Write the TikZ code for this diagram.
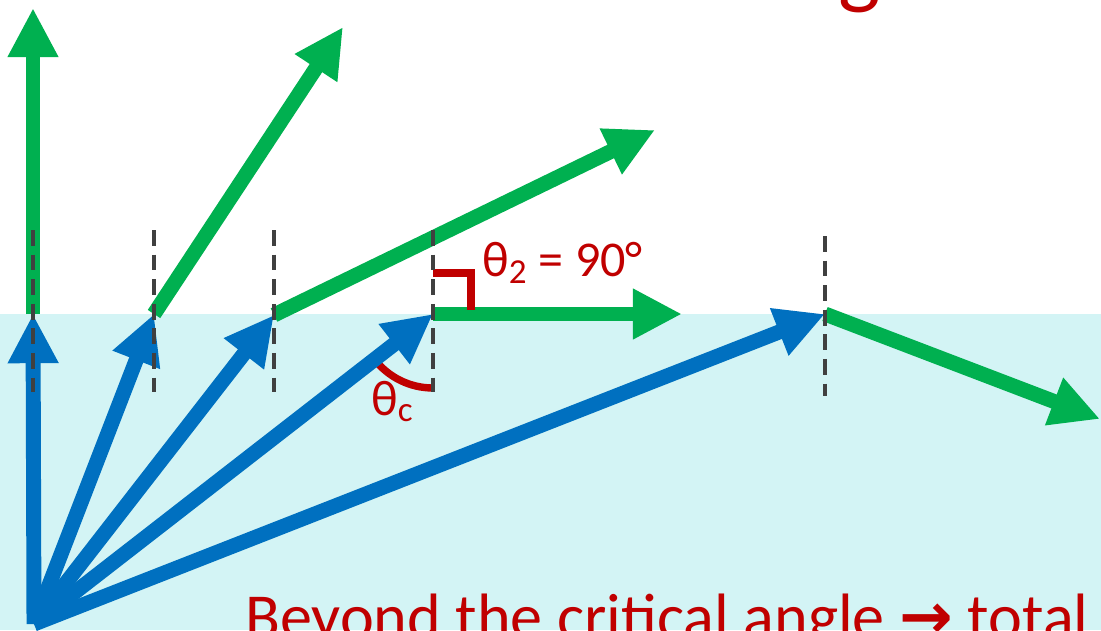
\documentclass[tikz,border=0pt]{standalone}
\usepackage{fontspec}
\setmainfont{Carlito}
\newfontfamily\arrowfont{DejaVu Sans}
\definecolor{tirblue}{RGB}{0,112,192}
\definecolor{tirgreen}{RGB}{0,176,80}
\definecolor{tirred}{RGB}{192,0,0}
\definecolor{tirwater}{RGB}{211,244,245}
\definecolor{tirgray}{RGB}{64,64,64}
\usetikzlibrary{arrows.meta}

\begin{document}
\begin{tikzpicture}[x=0.02cm,y=-0.02cm,
  incray/.style={-{Triangle[length=28pt,width=27pt]},line width=8.5pt,tirblue},
  outray/.style={-{Triangle[length=28pt,width=27pt]},line width=8.5pt,tirgreen},
  normal/.style={tirgray,line width=1.8pt,dash pattern=on 9pt off 5pt},
  anglemark/.style={tirred,line width=4.2pt},
  redlbl/.style={text=tirred,inner sep=0pt,font=\fontsize{28.5}{33}\selectfont}
]
  \useasboundingbox (0,0) rectangle (1101,630);
  \clip (0,0) rectangle (1101,630);

  % Water
  \fill[tirwater] (0,314) rectangle (1101,630);

  % Source and points on the surface
  \coordinate (src) at (34,624);
  \coordinate (hit1) at (33,314);
  \coordinate (hit2) at (154,314);
  \coordinate (hit3) at (274,315);
  \coordinate (hit4) at (433,314);
  \coordinate (hit5) at (825,314);

  % Ends of the refracted / reflected rays
  \coordinate (out1) at (33,8);
  \coordinate (out2) at (343,27);
  \coordinate (out3) at (655,130);
  \coordinate (out4) at (682,314);
  \coordinate (out5) at (1100,419);

  % Critical angle (under the ray)
  \draw[anglemark] (hit4) ++(142.4:74) arc[start angle=142.4,end angle=90,radius=74];

  % Incident rays
  \draw[incray] (src) -- (hit1);
  \draw[incray] (src) -- (hit2);
  \draw[incray] (src) -- (hit3);
  \draw[incray] (src) -- (hit4);
  \draw[incray] (src) -- (hit5);

  % Outgoing rays
  \draw[outray] (hit1) -- (out1);
  \draw[outray] (hit2) -- (out2);
  \draw[outray] (hit3) -- (out3);
  \draw[outray] (hit4) -- (out4);
  \draw[outray] (hit5) -- (out5);

  % Right angle
  \draw[anglemark] (433,273) -| (471,310);

  % Normals
  \draw[normal] (33,230) -- (33,392);
  \draw[normal] (154,230) -- (154,392);
  \draw[normal] (274,230) -- (274,392);
  \draw[normal] (433,230) -- (433,392);
  \draw[normal] (825,236) -- (825,396);

  % Labels
  \node[redlbl,anchor=base west] (thetatwo) at (482,276) {θ\textsubscript{2} = 90°};
  \node[redlbl,anchor=base west] (thetac) at (371,415) {θ\textsubscript{c}};
  \node[redlbl,anchor=base west,font=\fontsize{36.5}{42}\selectfont] (beyond) at (245,638)
    {Beyond the critical angle {\arrowfont\bfseries →} total};
  \node[redlbl,anchor=base west,font=\fontsize{51}{60}\selectfont] (title) at (838,-3) {g};
\end{tikzpicture}
\end{document}
